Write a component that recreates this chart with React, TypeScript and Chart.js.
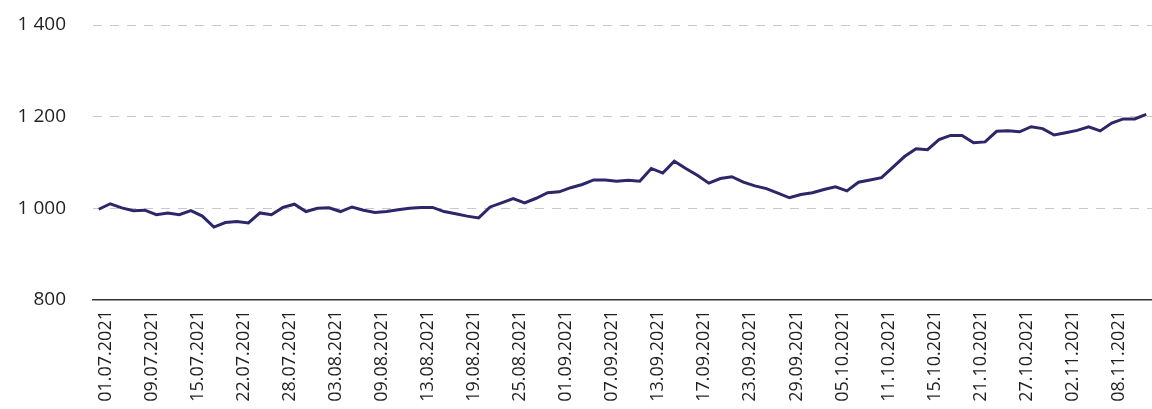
import React, { useEffect, useRef } from "react";
import { Chart, registerables } from "chart.js";

Chart.register(...registerables);

const dates: string[] = [
  "01.07.2021", "02.07.2021", "06.07.2021", "08.07.2021",
  "09.07.2021", "12.07.2021", "13.07.2021", "14.07.2021",
  "15.07.2021", "16.07.2021", "19.07.2021", "21.07.2021",
  "22.07.2021", "23.07.2021", "26.07.2021", "27.07.2021",
  "28.07.2021", "29.07.2021", "30.07.2021", "02.08.2021",
  "03.08.2021", "04.08.2021", "05.08.2021", "06.08.2021",
  "09.08.2021", "10.08.2021", "11.08.2021", "12.08.2021",
  "13.08.2021", "16.08.2021", "17.08.2021", "18.08.2021",
  "19.08.2021", "20.08.2021", "23.08.2021", "24.08.2021",
  "25.08.2021", "26.08.2021", "27.08.2021", "30.08.2021",
  "01.09.2021", "02.09.2021", "03.09.2021", "06.09.2021",
  "07.09.2021", "08.09.2021", "09.09.2021", "10.09.2021",
  "13.09.2021", "14.09.2021", "15.09.2021", "16.09.2021",
  "17.09.2021", "20.09.2021", "21.09.2021", "22.09.2021",
  "23.09.2021", "24.09.2021", "27.09.2021", "28.09.2021",
  "29.09.2021", "30.09.2021", "01.10.2021", "04.10.2021",
  "05.10.2021", "06.10.2021", "07.10.2021", "08.10.2021",
  "11.10.2021", "12.10.2021", "13.10.2021", "14.10.2021",
  "15.10.2021", "18.10.2021", "19.10.2021", "20.10.2021",
  "21.10.2021", "22.10.2021", "25.10.2021", "26.10.2021",
  "27.10.2021", "28.10.2021", "29.10.2021", "01.11.2021",
  "02.11.2021", "03.11.2021", "04.11.2021", "05.11.2021",
  "08.11.2021", "09.11.2021", "10.11.2021", "11.11.2021",
];

const values: number[] = [
  998, 1010, 1001, 995, 996, 986, 990, 986, 995, 983,
  959, 969, 971, 968, 990, 986, 1002, 1009, 993, 1000,
  1001, 993, 1003, 996, 991, 993, 997, 1000, 1002, 1002,
  993, 988, 983, 979, 1003, 1012, 1021, 1012, 1022, 1034,
  1036, 1045, 1052, 1062, 1062, 1059, 1061, 1059, 1087, 1077,
  1103, 1087, 1072, 1055, 1065, 1069, 1057, 1049, 1043, 1033,
  1023, 1030, 1034, 1041, 1047, 1038, 1057, 1062, 1067, 1090,
  1113, 1130, 1128, 1150, 1159, 1159, 1143, 1145, 1168, 1169,
  1167, 1178, 1174, 1160, 1165, 1170, 1178, 1169, 1186, 1195,
  1195, 1205,
];

const yMin = 800;
const yMax = 1400;
const yStep = 200;
const labelEvery = 4;

const FONT = "'Open Sans', 'Noto Sans', sans-serif";
const TEXT = "#231f20";

function fmt(v: number): string {
  return String(v).replace(/\B(?=(\d{3})+(?!\d))/g, " ");
}

export default function App() {
  const ref = useRef<HTMLCanvasElement>(null);

  useEffect(() => {
    document.body.style.margin = "0";
    const canvas = ref.current;
    if (!canvas) return;
    const chart = new Chart(canvas, {
      type: "line",
      data: {
        labels: dates,
        datasets: [
          {
            data: values,
            borderColor: "#2b2769",
            borderWidth: 3,
            pointRadius: 0,
            tension: 0,
            fill: false,
          },
        ],
      },
      options: {
        animation: false,
        responsive: false,
        maintainAspectRatio: false,
        layout: { padding: { top: 25, right: 0, left: 0, bottom: 0 } },
        plugins: {
          legend: { display: false },
          tooltip: { enabled: false },
          title: { display: false },
        },
        scales: {
          x: {
            offset: true,
            grid: { display: false, drawTicks: false },
            border: { display: true, color: "#333333", width: 1.5 },
            ticks: {
              autoSkip: false,
              maxRotation: 90,
              minRotation: 90,
              padding: 10,
              labelOffset: 7,
              color: TEXT,
              font: { family: FONT, size: 18 },
              callback: (_v: any, i: number) => (i % labelEvery === 0 ? dates[i] : ""),
            },
            afterFit: (s: any) => {
              s.height = 109;
              s.paddingLeft = 0;
              s.paddingRight = 0;
            },
          },
          y: {
            min: yMin,
            max: yMax,
            ticks: {
              stepSize: yStep,
              padding: 27,
              color: TEXT,
              font: { family: FONT, size: 19 },
              callback: (v: any) => fmt(Number(v)),
            },
            grid: {
              drawTicks: false,
              lineWidth: 1,
              color: (ctx: any) => (ctx.tick && ctx.tick.value === yMin ? "rgba(0,0,0,0)" : "#c8c8c8"),
            },
            border: { display: false, dash: [9, 8] },
            afterFit: (s: any) => {
              s.width = 93;
              s.paddingTop = 0;
              s.paddingBottom = 0;
            },
          },
        },
      },
    });
    return () => chart.destroy();
  }, []);

  return (
    <div style={{ position: "fixed", left: 0, top: 0, width: 1152, height: 409 }}>
      <canvas ref={ref} width={1152} height={409} style={{ display: "block" }} />
    </div>
  );
}
